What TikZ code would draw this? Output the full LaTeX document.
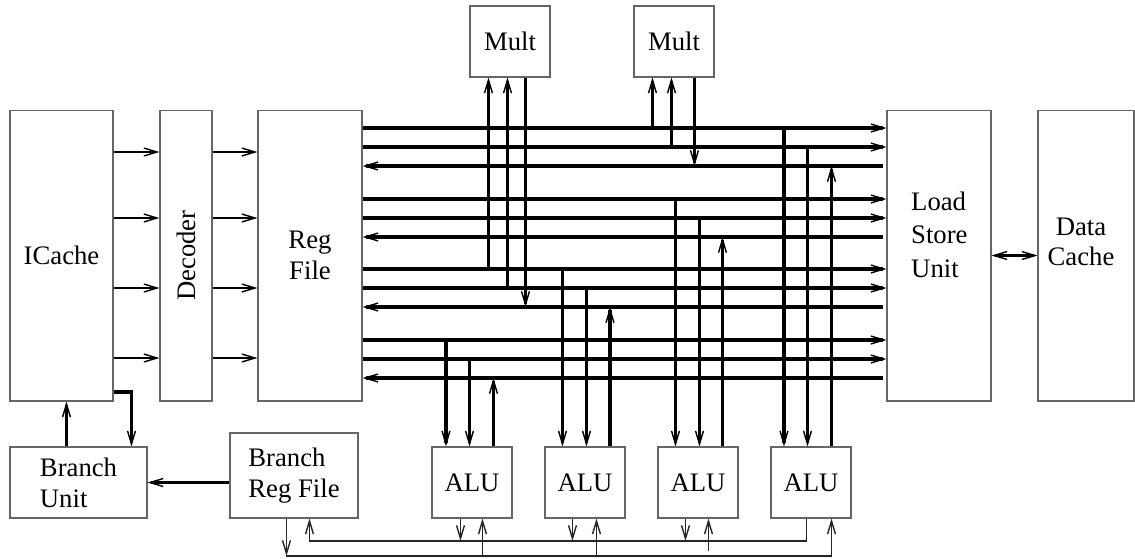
\documentclass[tikz,border=0pt]{standalone}
\usepackage{fontspec}
\setmainfont{Liberation Serif}
\usetikzlibrary{arrows.meta, calc}

\tikzset{
  unit/.style={draw=black!60, line width=0.6pt, inner sep=0pt, align=center},
  bus/.style={line width=1.9pt},
  wire/.style={line width=1.2pt},
  cond/.style={line width=0.9pt, draw=black!85},
}

\begin{document}
\begin{tikzpicture}[x=0.02cm, y=-0.02cm,
    font=\fontsize{15.2}{17.5}\selectfont,
    >={Straight Barb[length=7.5pt, width=4.5pt, line width=0.8pt]}]
\useasboundingbox (0,0) rectangle (1135,558);

% front end and register file
\node[unit, minimum width=2.06cm, minimum height=5.82cm] (icache) at (61.5,255.5) {ICache};
\node[unit, minimum width=1.04cm, minimum height=5.82cm] (decoder) at (186,255.5) {};
\node[rotate=90] (decname) at (decoder) {Decoder};
\node[unit, minimum width=2.08cm, minimum height=5.82cm] (regfile) at (310,255.5) {Reg\\File};

% memory side
\node[unit, minimum width=2.08cm, minimum height=5.82cm] (lsu) at (939,255.5) {};
\node[anchor=west, align=left, font=\fontsize{15.2}{19}\selectfont] (lsuname) at (905,234.5) {Load\\Store\\Unit};
\node[unit, minimum width=1.92cm, minimum height=5.82cm] (dcache) at (1086,255.5) {};
\node[align=center] (dcname) at (1081,242) {Data\\Cache};

% functional units
\node[unit, minimum width=1.6cm, minimum height=1.42cm] (mult1) at (510,41.5) {Mult};
\node[unit, minimum width=1.6cm, minimum height=1.42cm] (mult2) at (674,41.5) {Mult};
\foreach \i/\x in {1/472,2/585,3/698,4/811}
  \node[unit, minimum width=1.6cm, minimum height=1.42cm] (alu\i) at (\x,482.5) {ALU};
\node[unit, align=left, minimum width=2.74cm, minimum height=1.42cm] (bunit) at (78.5,482.5) {Branch\\Unit};
\node[unit, align=left, minimum width=2.56cm, minimum height=1.7cm] (breg) at (294,475.5) {Branch\\Reg File};

% icache -> decoder -> regfile
\foreach \y in {152,218,288,358} {
  \draw[wire,->] (icache.east |- 0,\y) -- (decoder.west |- 0,\y);
  \draw[wire,->] (decoder.east |- 0,\y) -- (regfile.west |- 0,\y);
}

% operand buses (a,b) and result bus (r), four groups
\foreach \g/\y in {1/128,2/199,3/269,4/340} {
  \coordinate (a\g) at (0,\y);
  \coordinate (b\g) at (0,\y+19);
  \coordinate (r\g) at (0,\y+38);
  \draw[bus,->] (regfile.east |- a\g) -- (lsu.west |- a\g);
  \draw[bus,->] (regfile.east |- b\g) -- (lsu.west |- b\g);
  \draw[bus,->, shorten <=2pt] (lsu.west |- r\g) -- (regfile.east |- r\g);
}

% taps from the buses into the units
\foreach \m/\s/\g/\pa/\pb/\pc in {mult1/south west/3/19/38/56, mult2/south west/1/19/38/61,
    alu1/north west/4/14.5/38/62, alu2/north west/3/18/42/65.5,
    alu3/north west/2/18/42/65, alu4/north west/1/13.5/37/61} {
  \path ($(\m.\s)+(\pa,0)$) coordinate (\m-a)
        ($(\m.\s)+(\pb,0)$) coordinate (\m-b)
        ($(\m.\s)+(\pc,0)$) coordinate (\m-r);
  \draw[bus,->] (\m-a |- a\g) -- (\m-a);
  \draw[bus,->] (\m-b |- b\g) -- (\m-b);
  \draw[bus,->] (\m-r) -- (\m-r |- r\g);
}

\draw[wire,<->] (lsu.east) -- (dcache.west);

% branch unit
\coordinate (bturn) at ($(bunit.north west)+(122,0)$);
\coordinate (bback) at ($(bunit.north west)+(57,0)$);
\draw[bus,->] (icache.east |- 0,392) -| (bturn);
\draw[bus,->] (bback) -- (bback |- icache.south);
\draw[bus,->] (bunit.east -| breg.west) -- (bunit.east);

% condition lines below the ALUs
\coordinate (c1) at (0,541);
\coordinate (c2) at (0,556);
\path ($(breg.south west)+(57,0)$) coordinate (bro)
      ($(breg.south west)+(80,0)$) coordinate (bri);
\foreach \i/\po/\pn in {1/29/51, 2/28/52, 3/28/51, 4/36/61}
  \path ($(alu\i.south west)+(\po,0)$) coordinate (alu\i-o)
        ($(alu\i.south west)+(\pn,0)$) coordinate (alu\i-n);

\draw[cond,->] (bro) -- (bro |- c2);
\draw[cond,->] (bro |- c2) -| (alu4-n);
\draw[cond,->] (alu4-o) |- (bri |- c1) -- (bri);
\foreach \i in {1,2,3}
  \draw[cond,->] (alu\i-o) -- (alu\i-o |- c1);
\foreach \i in {1,2}
  \draw[cond,->] (alu\i-n |- c2) -- (alu\i-n);
\draw[cond,->] ($(alu3-n |- c2)+(0,-5)$) -- (alu3-n);
\end{tikzpicture}
\end{document}
